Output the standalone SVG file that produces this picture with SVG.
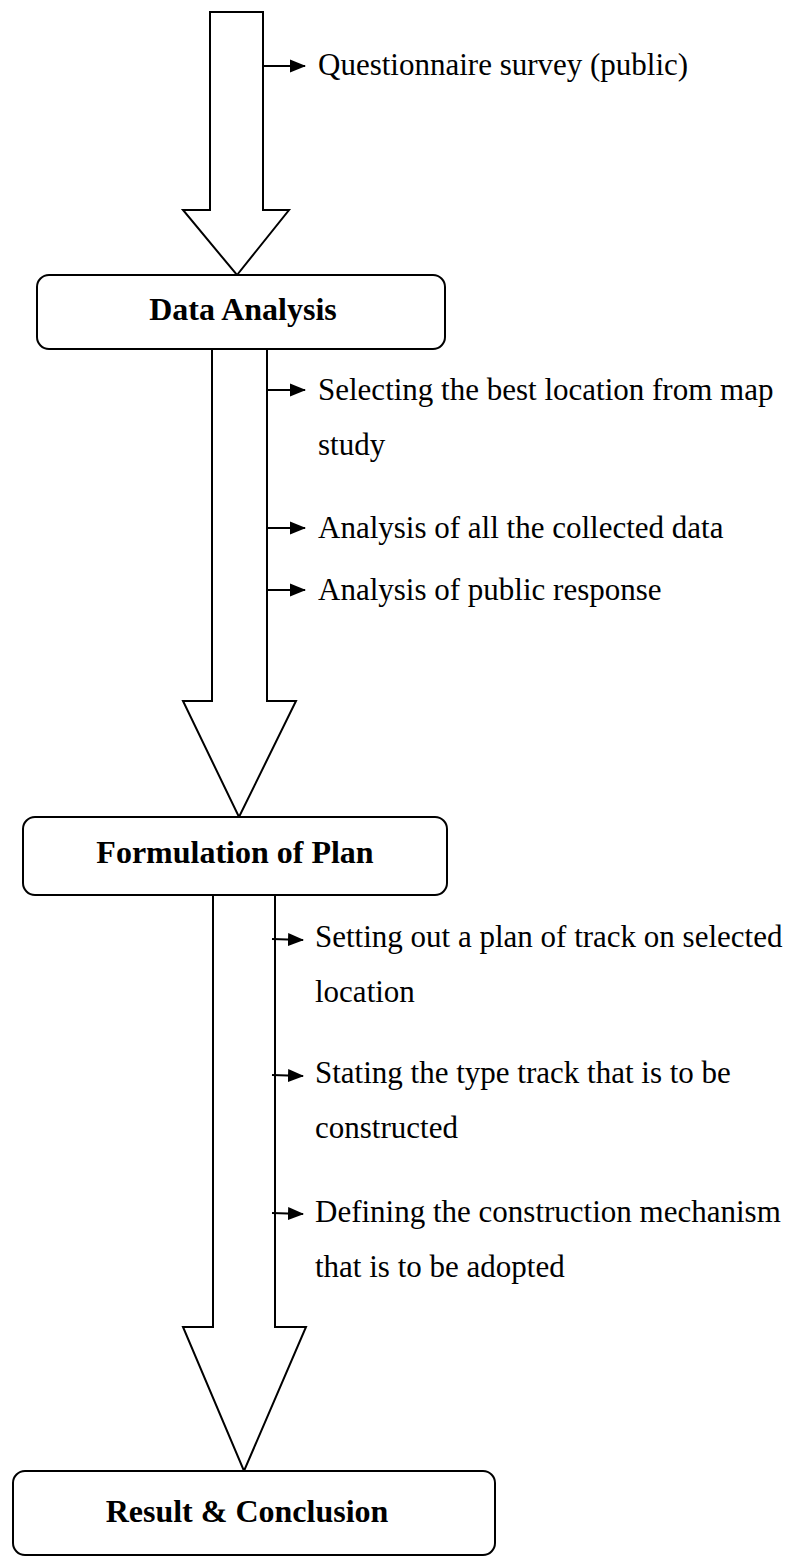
<svg xmlns="http://www.w3.org/2000/svg" width="808" height="1557" viewBox="0 0 808 1557">
<style>
.bg{fill:#fff}
.big{fill:#fff;stroke:#000;stroke-width:2;stroke-linejoin:miter}
.box{fill:#fff;stroke:#000;stroke-width:2}
.t{font-family:"Liberation Serif","Times New Roman",serif;font-size:31px;fill:#000}
.b{font-family:"Liberation Serif","Times New Roman",serif;font-size:32px;font-weight:bold;fill:#000;text-anchor:middle}
.sm{stroke:#000;stroke-width:2.2;fill:none}
</style>
<defs>
<marker id="ah" markerWidth="16" markerHeight="14" refX="15" refY="7" orient="auto" markerUnits="userSpaceOnUse">
<path d="M0,0.5 L16,7 L0,13.5 Z" fill="#000"/>
</marker>
</defs>
<rect class="bg" x="0" y="0" width="808" height="1557"/>
<g id="connectors">
<polygon class="big" points="210,12 263,12 263,210 289,210 237,275 183,210 210,210"/>
<polygon class="big" points="212,349 267,349 267,701 296,701 239,817 183,701 212,701"/>
<polygon class="big" points="213,895 275,895 275,1327 306,1327 244,1471 183,1327 213,1327"/>
<line class="sm" x1="263" y1="66" x2="305" y2="66" marker-end="url(#ah)"/>
<line class="sm" x1="267" y1="390" x2="305" y2="390" marker-end="url(#ah)"/>
<line class="sm" x1="267" y1="528" x2="305" y2="528" marker-end="url(#ah)"/>
<line class="sm" x1="267" y1="590" x2="305" y2="590" marker-end="url(#ah)"/>
<line class="sm" x1="272" y1="939" x2="303" y2="940" marker-end="url(#ah)"/>
<line class="sm" x1="272" y1="1075" x2="303" y2="1076" marker-end="url(#ah)"/>
<line class="sm" x1="272" y1="1213" x2="303" y2="1214" marker-end="url(#ah)"/>
</g>
<g id="notes">
<text class="t" x="318" y="75">Questionnaire survey (public)</text>
<text class="t" x="318" y="400">Selecting the best location from map</text>
<text class="t" x="318" y="455">study</text>
<text class="t" x="318" y="538">Analysis of all the collected data</text>
<text class="t" x="318" y="600">Analysis of public response</text>
<text class="t" x="315" y="947">Setting out a plan of track on selected</text>
<text class="t" x="315" y="1002">location</text>
<text class="t" x="315" y="1083">Stating the type track that is to be</text>
<text class="t" x="315" y="1138">constructed</text>
<text class="t" x="315" y="1222">Defining the construction mechanism</text>
<text class="t" x="315" y="1277">that is to be adopted</text>
</g>
<g id="node-data-analysis">
<rect class="box" x="37" y="275" width="408" height="74" rx="12"/>
<text class="b" x="243" y="320">Data Analysis</text>
</g>
<g id="node-formulation">
<rect class="box" x="23" y="817" width="424" height="78" rx="12"/>
<text class="b" x="235" y="863">Formulation of Plan</text>
</g>
<g id="node-result">
<rect class="box" x="13" y="1471" width="482" height="84" rx="12"/>
<text class="b" x="247" y="1522">Result &amp; Conclusion</text>
</g>
</svg>
